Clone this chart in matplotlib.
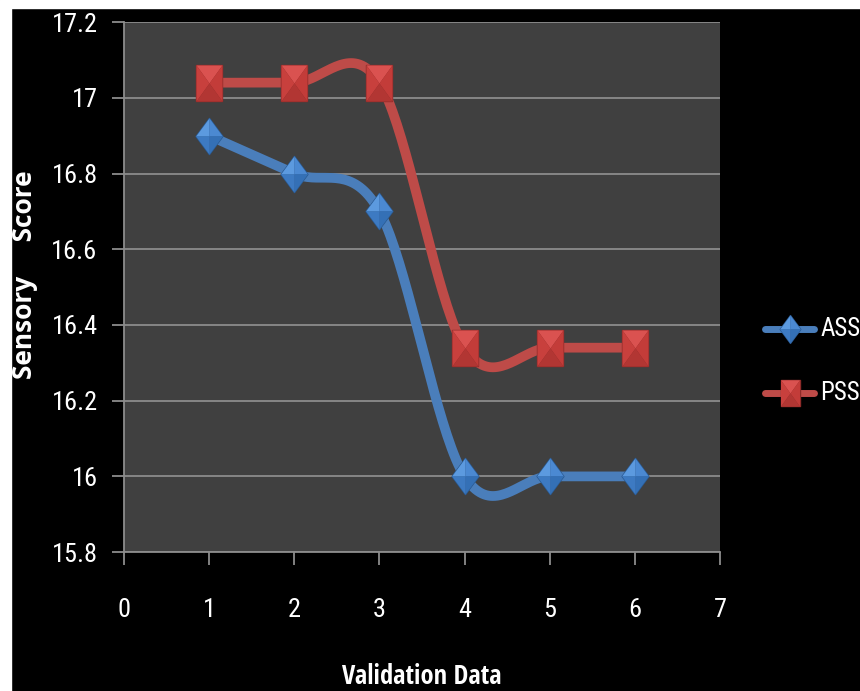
import numpy as np
import matplotlib.pyplot as plt
from matplotlib.patches import Rectangle
from matplotlib.path import Path

plt.rcParams['font.family'] = ['Roboto Condensed', 'DejaVu Sans']

# data
validation = [1, 2, 3, 4, 5, 6]
ass = [16.9, 16.8, 16.7, 16.0, 16.0, 16.0]
pss = [17.04, 17.04, 17.04, 16.34, 16.34, 16.34]
x_ticks = [0, 1, 2, 3, 4, 5, 6, 7]
y_ticks = [15.8, 16.0, 16.2, 16.4, 16.6, 16.8, 17.0, 17.2]
y_labels = ['15.8', '16', '16.2', '16.4', '16.6', '16.8', '17', '17.2']


def smooth(x, y, n=40):
    # excel style smoothed line: cubic bezier with catmull-rom control points
    x = np.asarray(x, float)
    y = np.asarray(y, float)
    px = np.concatenate([[x[0]], x, [x[-1]]])
    py = np.concatenate([[y[0]], y, [y[-1]]])
    t = np.linspace(0, 1, n)[:, None]
    xs, ys = [], []
    for i in range(1, len(px) - 2):
        p0 = np.array([px[i], py[i]])
        p3 = np.array([px[i + 1], py[i + 1]])
        c1 = p0 + (np.array([px[i + 1], py[i + 1]]) - np.array([px[i - 1], py[i - 1]])) / 6
        c2 = p3 - (np.array([px[i + 2], py[i + 2]]) - np.array([px[i], py[i]])) / 6
        b = ((1 - t) ** 3) * p0 + 3 * ((1 - t) ** 2) * t * c1 + 3 * (1 - t) * t ** 2 * c2 + t ** 3 * p3
        xs.append(b[:, 0])
        ys.append(b[:, 1])
    return np.concatenate(xs), np.concatenate(ys)


def tri(a, b):
    return Path([a, b, (0, 0), a], [Path.MOVETO, Path.LINETO, Path.LINETO, Path.CLOSEPOLY])


# beveled markers, a bit taller than wide, built from four facets each
w, h = 0.36, 0.5
square_facets = [
    (tri((-w, h), (w, h)), '#DA5250'),      # top
    (tri((-w, -h), (-w, h)), '#C8403D'),    # left
    (tri((w, h), (w, -h)), '#C33C39'),      # right
    (tri((w, -h), (-w, -h)), '#B23633'),    # bottom
]
dw = 0.37
diamond_facets = [
    (tri((-dw, 0), (0, h)), '#5C9ADF'),
    (tri((0, h), (dw, 0)), '#4B89D2'),
    (tri((dw, 0), (0, -h)), '#3470B6'),
    (tri((0, -h), (-dw, 0)), '#3D7AC2'),
]
rect = Path([(-w, -h), (w, -h), (w, h), (-w, h), (-w, -h)],
            [Path.MOVETO, Path.LINETO, Path.LINETO, Path.LINETO, Path.CLOSEPOLY])
diam = Path([(0, -h), (dw, 0), (0, h), (-dw, 0), (0, -h)],
            [Path.MOVETO, Path.LINETO, Path.LINETO, Path.LINETO, Path.CLOSEPOLY])


def draw_markers(ax, x, y, outline, facets, edge, size, z):
    ax.plot(x, y, ls='none', marker=outline, ms=size, color=edge, mec=edge, mew=1.0, zorder=z)
    for path, col in facets:
        ax.plot(x, y, ls='none', marker=path, ms=size, color=col, mec='none', zorder=z + 0.1)


fig = plt.figure(figsize=(8.6, 6.91), dpi=100, facecolor='black')
ax = fig.add_axes([0.1442, 0.201, 0.6930, 0.767])
ax.set_facecolor('#404040')

blue = '#4A7EBB'
red = '#BE4B48'

sx, sy = smooth(validation, ass)
ax.plot(sx, sy, color=blue, lw=7, solid_capstyle='round', zorder=3)
sx, sy = smooth(validation, pss)
ax.plot(sx, sy, color=red, lw=7, solid_capstyle='round', zorder=3)

draw_markers(ax, validation, ass, diam, diamond_facets, '#2A5A92', 26, 4)
draw_markers(ax, validation, pss, rect, square_facets, '#8E2B29', 26, 5)

ax.set_xlim(0, 7)
ax.set_ylim(15.8, 17.2)
ax.set_xticks(x_ticks)
ax.set_yticks(y_ticks)
ax.set_yticklabels(y_labels)
ax.grid(axis='y', color='#8C8C8C', lw=1.3)
ax.set_axisbelow(True)

for s in ['top', 'right']:
    ax.spines[s].set_visible(False)
for s in ['left', 'bottom']:
    ax.spines[s].set_color('#8C8C8C')
    ax.spines[s].set_linewidth(1.3)

ax.tick_params(colors='#8C8C8C', labelcolor='white', labelsize=19, length=9, width=1.3)
ax.tick_params(axis='x', pad=24)
ax.tick_params(axis='y', pad=10)

# legend drawn by hand on the black margin
lx = [0.89, 0.947]
ax_leg = fig.add_axes([0, 0, 1, 1], facecolor='none')
ax_leg.set_axis_off()
ax_leg.set_xlim(0, 1)
ax_leg.set_ylim(0, 1)
ax_leg.plot(lx, [0.524, 0.524], color=blue, lw=5, solid_capstyle='round')
draw_markers(ax_leg, [np.mean(lx)], [0.524], diam, diamond_facets, '#2A5A92', 20, 4)
ax_leg.text(0.954, 0.524, 'ASS', color='white', fontsize=18, va='center')
ax_leg.plot(lx, [0.431, 0.431], color=red, lw=5, solid_capstyle='round')
draw_markers(ax_leg, [np.mean(lx)], [0.431], rect, square_facets, '#8E2B29', 19, 4)
ax_leg.text(0.954, 0.431, 'PSS', color='white', fontsize=18, va='center')

fig.text(0.028, 0.603, 'Sensory     Score', rotation=90, color='white', fontsize=19,
         fontweight='bold', ha='center', va='center', family=['Open Sans', 'DejaVu Sans'])
fig.text(0.49, 0.002, 'Validation Data', color='white', fontsize=19,
         fontweight='bold', ha='center', va='bottom',
         family=['Open Sans Condensed', 'DejaVu Sans'])

# thin white border left and top of the screenshot
fig.patches.append(Rectangle((0, 0), 11 / 860, 1, transform=fig.transFigure,
                             color='white', zorder=10))
fig.patches.append(Rectangle((0, 1 - 8 / 691), 1, 8 / 691, transform=fig.transFigure,
                             color='white', zorder=10))

fig.savefig('out.png', dpi=100, facecolor='black')
